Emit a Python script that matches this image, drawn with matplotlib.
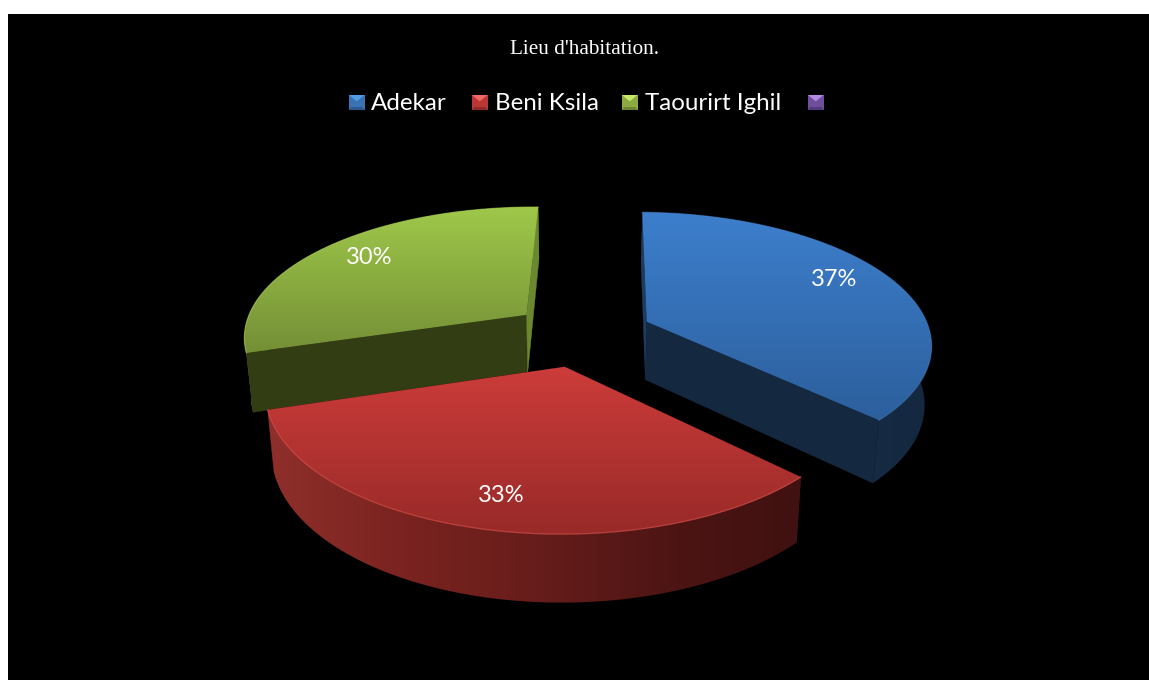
import numpy as np
import matplotlib
matplotlib.use('Agg')
import matplotlib.pyplot as plt
from matplotlib.colors import LinearSegmentedColormap
from matplotlib.patches import Polygon, Rectangle

# Data
names = ['Adekar', 'Beni Ksila', 'Taourirt Ighil', '']
shares = [37, 33, 30]
labels = ['37%', '33%', '30%']
title = "Lieu d'habitation."

# Pie geometry, in pixels of the canvas
CX, CY = 582, 334
RX, RY = 284, 130
PERSP = 0.155
EXPLODE = 0.25
DEPTH = 58.5
SHRINK = 0.02
START = 1.0

# Colours per slice: top gradient, rim gradient, cut face, edge highlight
top_cols = [['#3d7fcd', '#2c5f9c'], ['#cc3c3a', '#982a28'], ['#9fc84a', '#748f36']]
rim_cols = [['#1b3556', '#14283f'],
            ['#8f2f2b', '#7a2320', '#671d1b', '#4d1514', '#3f1110'],
            ['#7c9a3a', '#6c8a30']]
cut_cols = ['#14283f', '#4d1514', '#333d14']
edge_cols = ['#4a86c8', '#d9504a', '#a6cb55']
edge_alpha = [0.45, 0.7, 0.6]
swatch_cols = [('#4f9be6', '#3a72b4', '#2b5a90'),
               ('#ee6a66', '#b93734', '#8e2b28'),
               ('#c9e86a', '#8bab42', '#6b8532'),
               ('#b48ae6', '#6f4f9c', '#54397c')]
label_xy = [(834, 279), (501, 495), (369, 258)]
swatch_x = [349, 472, 622, 808]
name_x = [371, 495, 645]


def project(u, v, z=0.0):
    w = 1 / (1 - PERSP * v)
    s = 1 - SHRINK * z
    return CX + RX * u * w * s, CY + RY * v * w * s + DEPTH * w * z


def gradient(ax, pts, colors, horizontal=False):
    # fill a polygon with a linear gradient, through a clipped image
    pts = np.array(pts)
    x0, x1 = pts[:, 0].min(), pts[:, 0].max()
    y0, y1 = pts[:, 1].min(), pts[:, 1].max()
    cmap = LinearSegmentedColormap.from_list('g', colors)
    ramp = np.linspace(0, 1, 256)
    ramp = ramp.reshape(1, -1) if horizontal else ramp.reshape(-1, 1)
    im = ax.imshow(ramp, extent=(x0, x1, y1, y0), cmap=cmap, aspect='auto',
                   interpolation='bilinear', zorder=ax.zcount)
    clip = Polygon(pts, closed=True, transform=ax.transData, facecolor='none', edgecolor='none')
    ax.add_patch(clip)
    im.set_clip_path(clip)
    ax.zcount += 1


def cut_faces(ax, i, apex_t, apex_b, top, bottom):
    for corner_t, corner_b in [(top[0], bottom[0]), (top[-1], bottom[-1])]:
        face = [apex_t, corner_t, corner_b, apex_b]
        col = cut_cols[i]
        # faces turned away from the light
        if i == 2 and corner_t is top[-1]:
            col = '#6a8830'
        if i == 0 and corner_t is top[0]:
            col = '#1d3c62'
        ax.add_patch(Polygon(face, closed=True, facecolor=col, edgecolor=col, lw=0.3, zorder=ax.zcount))
        ax.zcount += 1


fig = plt.figure(figsize=(11.49, 6.8), dpi=100, facecolor='white')
ax = fig.add_axes([0, 0, 1, 1])
ax.zcount = 2
ax.add_patch(Rectangle((8, 14), 1141, 666, facecolor='black', edgecolor='none', zorder=1))

# cumulative angles, clockwise from twelve o'clock
edges = START + np.cumsum([0] + shares) / sum(shares) * 360

# blue first, then green, red is nearest to the viewer
for i in [0, 2, 1]:
    a0, a1 = np.radians(edges[i]), np.radians(edges[i + 1])
    mid = (a0 + a1) / 2
    eu, ev = EXPLODE * np.sin(mid), -EXPLODE * np.cos(mid)
    t = np.linspace(a0, a1, 160)
    u, v = eu + np.sin(t), ev - np.cos(t)
    top = list(zip(*project(u, v)))
    bottom = list(zip(*project(u, v, 1.0)))
    apex_t = project(eu, ev)
    apex_b = project(eu, ev, 1.0)

    # the red slice hides its cut faces behind the wall, the others show them
    if i == 1:
        cut_faces(ax, i, apex_t, apex_b, top, bottom)
    gradient(ax, top + bottom[::-1], rim_cols[i], horizontal=True)
    if i != 1:
        cut_faces(ax, i, apex_t, apex_b, top, bottom)

    gradient(ax, [apex_t] + top, top_cols[i])
    ax.plot(*zip(*top), color=edge_cols[i], lw=0.9, alpha=edge_alpha[i], zorder=ax.zcount)
    ax.zcount += 1

# percentage labels
for (x, y), lab in zip(label_xy, labels):
    ax.text(x, y, lab, color='white', fontsize=17, family='Lato', ha='center', va='center', zorder=ax.zcount)

ax.text(584.5, 50, title, color='white', fontsize=15.3, family='Liberation Serif', ha='center', va='center', zorder=ax.zcount)

# legend: bevelled swatches and names
sw, sh = 15.5, 15
for i, x in enumerate(swatch_x):
    y = 95
    light, body, dark = swatch_cols[i]
    cmid = (x + sw / 2, y + sh * 0.42)
    ax.add_patch(Rectangle((x, y), sw, sh, facecolor=body, edgecolor='none', zorder=ax.zcount))
    ax.add_patch(Polygon([(x, y + sh), (x + sw, y + sh), (x + sw - 2, y + sh - 3), (x + 2, y + sh - 3)],
                         closed=True, facecolor=dark, edgecolor='none', zorder=ax.zcount + 1))
    ax.add_patch(Polygon([(x, y), (x + sw, y), cmid], closed=True, facecolor=light, edgecolor='none', zorder=ax.zcount + 1))
for x, name in zip(name_x, names):
    ax.text(x, 103, name, color='white', fontsize=17.4, family='Lato', ha='left', va='center', zorder=ax.zcount + 1)

ax.set_xlim(0, 1149)
ax.set_ylim(680, 0)
ax.axis('off')

fig.savefig('out.png', dpi=100, facecolor='white')
